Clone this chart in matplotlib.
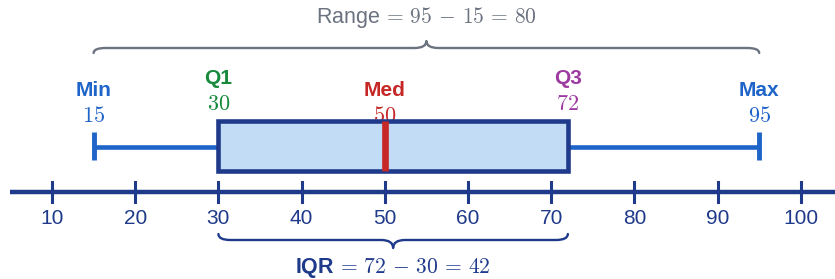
import matplotlib
matplotlib.use('Agg')
from matplotlib import pyplot as plt
from matplotlib.path import Path
from matplotlib.patches import PathPatch, Rectangle
import numpy as np

plt.rcParams['mathtext.fontset'] = 'cm'
plt.rcParams['font.family'] = ['Liberation Sans', 'DejaVu Sans']

# five-number summary
stat_names = ['Min', 'Q1', 'Med', 'Q3', 'Max']
stat_values = [15, 30, 50, 72, 95]
stat_colors = ['#1f64c8', '#178a3c', '#c62828', '#9c3aa0', '#1f64c8']
tick_values = [10, 20, 30, 40, 50, 60, 70, 80, 90, 100]

navy = '#1f3a8a'
gray = '#6b7280'
fill = '#c2dcf6'
whisker = '#1f64c8'

vmin, q1, med, q3, vmax = stat_values

fig = plt.figure(figsize=(8.35, 2.79), dpi=100)
ax = fig.add_axes([0, 0, 1, 1])
ax.set_xlim(3.75, 104.11)
ax.set_ylim(279, 0)   # y measured in pixels from the top
ax.set_axis_off()
pxu = 835 / (104.11 - 3.75)  # pixels per data unit along x


def brace(x0, x1, y0, ymid, ytip, r, color):
    r = r / pxu
    xm = (x0 + x1) / 2
    verts = [(x0, y0), (x0, ymid), (x0 + r, ymid),
             (xm - r, ymid), (xm, ymid), (xm, ytip),
             (xm, ymid), (xm + r, ymid),
             (x1 - r, ymid), (x1, ymid), (x1, y0)]
    codes = [Path.MOVETO, Path.CURVE3, Path.CURVE3,
             Path.LINETO, Path.CURVE3, Path.CURVE3,
             Path.CURVE3, Path.CURVE3,
             Path.LINETO, Path.CURVE3, Path.CURVE3]
    ax.add_patch(PathPatch(Path(verts, codes), fc='none', ec=color, lw=1.7,
                           capstyle='round', joinstyle='round'))


def eq(a, b, c):
    return r'$\,=\,%d\,-\,%d\,=\,%d$' % (a, b, c)


# number line
ax.plot([5, 104.11], [192, 192], color=navy, lw=3.2, solid_capstyle='butt')
for t in tick_values:
    ax.plot([t, t], [182, 202], color=navy, lw=2.2)
    ax.text(t, 219, str(t), ha='center', va='center', fontsize=15, color=navy)

# whiskers
ax.plot([vmin, q1], [147, 147], color=whisker, lw=3.3, solid_capstyle='butt', zorder=3)
ax.plot([q3, vmax], [147, 147], color=whisker, lw=3.3, solid_capstyle='butt', zorder=3)
for v in (vmin, vmax):
    ax.plot([v, v], [132, 160], color=whisker, lw=3.5, solid_capstyle='butt', zorder=3)

# box
ax.add_patch(Rectangle((q1, 121), q3 - q1, 50, fc=fill, ec=navy, lw=3.3, zorder=4))
ax.plot([med, med], [121, 171], color=stat_colors[2], lw=4.8,
        solid_capstyle='butt', zorder=5)

# labels above the marks
label_y = {'Min': 90, 'Q1': 78, 'Med': 90, 'Q3': 78, 'Max': 90}
for name, v, c in zip(stat_names, stat_values, stat_colors):
    y = label_y[name]
    ax.text(v, y, name, ha='center', va='center', fontsize=15,
            fontweight='bold', color=c, zorder=2)
    ax.text(v, y + 26, '$%d$' % v, ha='center', va='center', fontsize=16,
            color=c, zorder=2)

# range brace
brace(vmin, vmax, 53, 48, 41, 12, gray)
ax.text((vmin + vmax) / 2, 18, 'Range' + eq(vmax, vmin, vmax - vmin),
        ha='center', va='center', fontsize=15.5, color=gray)

# IQR brace
brace(q1, q3, 234, 240, 248, 12, navy)
ax.text((q1 + q3) / 2, 268, 'IQR' + eq(q3, q1, q3 - q1),
        ha='center', va='center', fontsize=15.5, fontweight='bold', color=navy)

fig.savefig('out.png', dpi=100)
